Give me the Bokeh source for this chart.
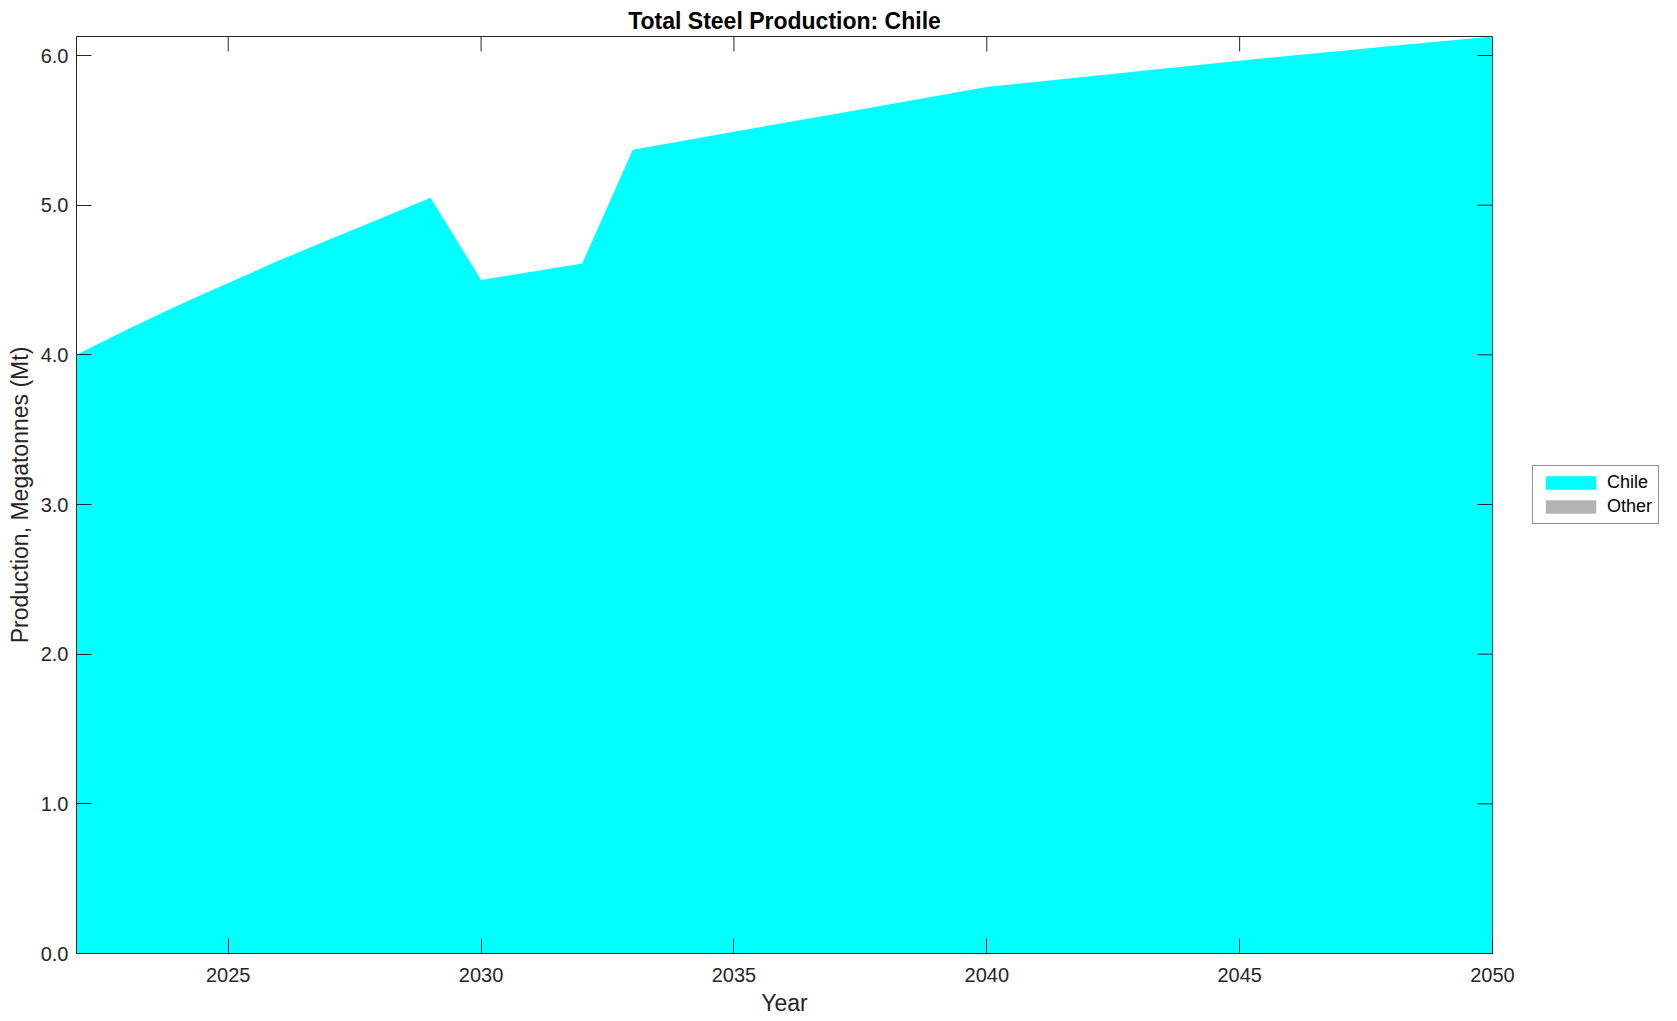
import math
from bokeh.plotting import figure
from bokeh.layouts import row
from bokeh.models import (Range1d, FixedTicker, NumeralTickFormatter,
                          Legend, LegendItem, ColumnDataSource)
from bokeh.embed import file_html
from bokeh.resources import INLINE

years = list(range(2022, 2051))
chile = [4.00, 4.17, 4.33, 4.48, 4.63, 4.77, 4.91, 5.05,
         4.50, 4.555, 4.61,
         5.37, 5.43, 5.49, 5.55, 5.61, 5.67, 5.73, 5.79,
         5.825, 5.86, 5.895, 5.93, 5.965, 5.998, 6.03, 6.063, 6.095, 6.127]
other = [0.0] * len(years)
series_names = ["Chile", "Other"]
series_colors = ["#00FFFF", "#B3B3B3"]
y_ticks = [0, 1, 2, 3, 4, 5, 6]
x_ticks = [2025, 2030, 2035, 2040, 2045, 2050]

FONT = "Liberation Sans"
AX = "#262626"

src = ColumnDataSource(dict(year=years, chile=chile, other=other))
ymax = max(c + o for c, o in zip(chile, other))

H = 1018
W1 = 1528
W2 = 141
p = figure(width=W1, height=H, output_backend="svg", toolbar_location=None,
           x_range=Range1d(years[0], years[-1]), y_range=Range1d(0, ymax),
           min_border_left=76, min_border_right=W1 - 1492, min_border_top=36,
           min_border_bottom=H - 953, title="Total Steel Production: Chile")

rs = p.varea_stack(["chile", "other"], x="year", source=src, color=series_colors)

# mirrored inward ticks on top and right edges
p.ray(x=x_ticks, y=[ymax] * len(x_ticks), length=15, length_units="screen",
      angle=-math.pi / 2, line_color=AX, line_width=1)
p.ray(x=[years[-1]] * len(y_ticks), y=y_ticks, length=15, length_units="screen",
      angle=math.pi, line_color=AX, line_width=1)

p.title.align = "center"
p.title.text_font = FONT
p.title.text_font_size = "23px"
p.title.text_font_style = "bold"
p.title.text_color = "black"
p.title.standoff = 5

p.xgrid.visible = False
p.ygrid.visible = False
p.outline_line_color = AX
p.outline_line_width = 1
p.background_fill_color = "white"
p.border_fill_color = "white"

def style(ax):
    ax.axis_line_color = AX
    ax.major_tick_line_color = AX
    ax.minor_tick_line_color = None
    ax.major_tick_in = 15
    ax.major_tick_out = 0
    ax.major_label_text_font = FONT
    ax.major_label_text_color = AX
    ax.major_label_text_font_size = "20px"
    ax.axis_label_text_font = FONT
    ax.axis_label_text_font_size = "23px"
    ax.axis_label_text_font_style = "normal"
    ax.axis_label_text_color = AX

xax = p.xaxis[0]
yax = p.yaxis[0]
xax.ticker = FixedTicker(ticks=x_ticks)
yax.ticker = FixedTicker(ticks=y_ticks)
yax.formatter = NumeralTickFormatter(format="0.0")
xax.axis_label = "Year"
yax.axis_label = "Production, Megatonnes (Mt)"
style(xax)
style(yax)
xax.major_label_standoff = 14
xax.axis_label_standoff = 5
yax.major_label_standoff = 8
yax.axis_label_standoff = 5

# legend panel (separate figure so the legend sits outside the axes box)
q = figure(width=W2, height=H, output_backend="svg", toolbar_location=None,
           x_range=Range1d(0, 1), y_range=Range1d(0, 1),
           min_border=0, x_axis_location=None, y_axis_location=None)
q.xgrid.visible = False
q.ygrid.visible = False
q.outline_line_color = None
q.background_fill_color = "white"
q.border_fill_color = "white"
qrs = q.varea_stack(["chile", "other"], x="year", source=src, color=series_colors)

legend = Legend(items=[LegendItem(label=n, renderers=[r]) for n, r in zip(series_names, qrs)],
                location=(1532 - W1, 429))
legend.label_text_font = FONT
legend.label_text_font_size = "18px"
legend.label_text_color = "black"
legend.glyph_width = 63
legend.glyph_height = 17
legend.label_height = 20
legend.label_standoff = 5
legend.spacing = 3
legend.padding = 6
legend.margin = 0
legend.border_line_color = AX
legend.border_line_width = 1
legend.background_fill_color = "white"
legend.background_fill_alpha = 1
q.add_layout(legend, "center")

layout = row(p, q, spacing=0)
open("out.html", "w").write(file_html(layout, INLINE))
